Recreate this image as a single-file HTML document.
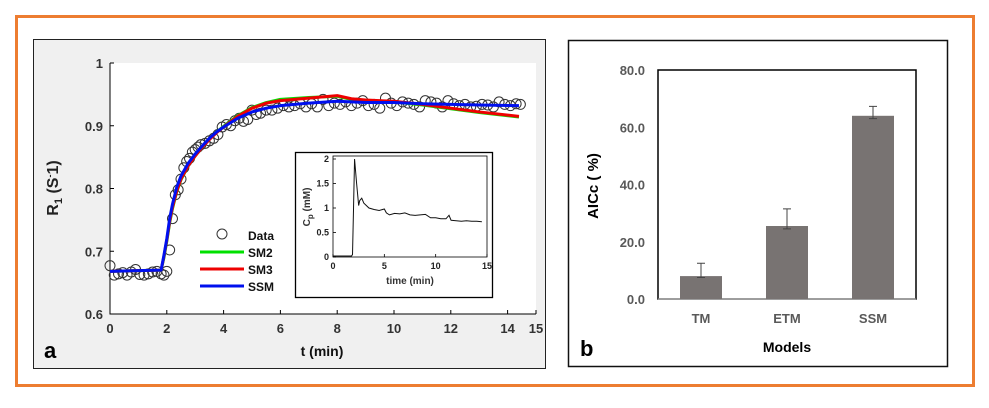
<!DOCTYPE html>
<html><head><meta charset="utf-8">
<style>
html,body{margin:0;padding:0;background:#fff;}
body{width:989px;height:403px;overflow:hidden;font-family:"Liberation Sans",Arial,sans-serif;}
svg text{font-family:"Liberation Sans",Arial,sans-serif;font-weight:bold;}
</style></head>
<body>
<svg id="fig" width="989" height="403" viewBox="0 0 989 403">
<rect x="16.5" y="16.5" width="957" height="369" fill="#fff" stroke="#ed7d31" stroke-width="3"/>
<rect x="33.5" y="39.5" width="512" height="329" fill="#f0f0f0" stroke="#222" stroke-width="1"/>
<rect x="568.5" y="40.5" width="379" height="326" fill="#fff" stroke="#111" stroke-width="1.5"/>
<g id="pa"></g><g id="inset"></g><g id="pb"></g>
</svg>
<script>
// ---- Panel a data ----
const dataT=[0,0.15,0.3,0.45,0.6,0.75,0.9,1.05,1.2,1.35,1.5,1.65,1.8,1.9,2.0,2.1,2.2,2.3,2.4,2.5,2.6,2.7,2.8,2.9,3.0,3.1,3.2,3.35,3.5,3.65,3.8,3.95,4.1,4.25,4.4,4.55,4.7,4.85,5.0,5.15,5.3,5.5,5.7,5.9,6.1,6.3,6.5,6.7,6.9,7.1,7.3,7.5,7.7,7.9,8.1,8.3,8.5,8.7,8.9,9.1,9.3,9.5,9.7,9.9,10.1,10.3,10.5,10.7,10.9,11.1,11.3,11.5,11.7,11.9,12.1,12.3,12.5,12.7,12.9,13.1,13.3,13.5,13.7,13.9,14.1,14.3,14.45];
const dataR=[0.677,0.662,0.664,0.666,0.662,0.667,0.671,0.663,0.662,0.664,0.667,0.668,0.664,0.662,0.668,0.702,0.752,0.79,0.798,0.815,0.833,0.843,0.848,0.858,0.862,0.866,0.870,0.872,0.876,0.880,0.886,0.898,0.902,0.900,0.908,0.912,0.907,0.910,0.925,0.918,0.920,0.925,0.925,0.928,0.932,0.930,0.932,0.935,0.930,0.935,0.930,0.942,0.932,0.936,0.934,0.938,0.932,0.936,0.940,0.932,0.934,0.928,0.944,0.936,0.932,0.938,0.936,0.934,0.930,0.940,0.938,0.936,0.930,0.940,0.935,0.932,0.934,0.930,0.931,0.934,0.933,0.930,0.938,0.934,0.932,0.935,0.934];
const fitT=[0,1.8,1.9,2.0,2.1,2.2,2.35,2.5,2.75,3,3.25,3.5,3.75,4,4.5,5,5.5,6,7,8,8.5,9,10,11,12,13,14.4];
const sm2=[0.668,0.670,0.690,0.716,0.745,0.768,0.795,0.814,0.836,0.852,0.866,0.879,0.890,0.899,0.916,0.929,0.937,0.942,0.945,0.947,0.942,0.940,0.938,0.933,0.927,0.921,0.914];
const sm3=[0.668,0.670,0.692,0.718,0.747,0.770,0.796,0.815,0.836,0.852,0.866,0.878,0.889,0.898,0.915,0.928,0.936,0.940,0.944,0.948,0.943,0.941,0.939,0.934,0.928,0.922,0.915];
const ssm=[0.668,0.670,0.694,0.720,0.752,0.775,0.802,0.820,0.840,0.855,0.868,0.880,0.890,0.898,0.912,0.922,0.928,0.932,0.936,0.939,0.938,0.937,0.937,0.935,0.934,0.933,0.932];
const xTicksA=[0,2,4,6,8,10,12,14,15];
const yTicksA=[0.6,0.7,0.8,0.9,1];
// ---- Inset data ----
const cpT=[0,1.8,1.9,2.0,2.1,2.3,2.5,2.6,2.8,3.0,3.5,4.0,4.5,5.0,5.2,5.5,6.0,6.5,7.0,7.5,8.0,8.5,9.0,9.5,10,10.5,11,11.3,11.5,12,12.5,13,13.5,14,14.5];
const cpV=[0.02,0.02,0.05,1.0,2.0,1.5,1.05,1.15,1.2,1.1,1.0,0.97,0.95,0.98,0.9,0.86,0.89,0.88,0.9,0.86,0.85,0.86,0.87,0.8,0.8,0.78,0.78,0.85,0.75,0.74,0.73,0.74,0.73,0.73,0.72];
const insetXT=[0,5,10,15];
const insetYT=[0,0.5,1,1.5,2];
// ---- Panel b data ----
const models=["TM","ETM","SSM"];
const aicc=[8.0,25.5,64.0];
const errHi=[12.5,31.5,67.3];
const errLo=[7.5,24.5,63.0];
const yTicksB=[0,20,40,60,80];

const NS="http://www.w3.org/2000/svg";
function mk(parent,tag,attrs,text){const e=document.createElementNS(NS,tag);for(const k in attrs)e.setAttribute(k,attrs[k]);if(text!==undefined)e.textContent=text;parent.appendChild(e);return e;}

// Panel a
const pa=document.getElementById('pa');
const ax=t=>110+t*(536-110)/15, ay=v=>314-(v-0.6)*(314-63)/0.4;
const plotA=mk(pa,'rect',{x:110,y:63,width:426,height:251,fill:'#fff'});


mk(pa,'path',{d:`M110,63V314H536`,stroke:'#000','stroke-width':1,fill:'none'});
xTicksA.forEach(t=>{
  mk(pa,'line',{x1:ax(t),x2:ax(t),y1:314,y2:310,stroke:'#000'});
  const l=mk(pa,'text',{x:ax(t),y:333,'text-anchor':'middle','font-size':13,fill:'#333'},String(t));
  
  
});
yTicksA.forEach(v=>{
  mk(pa,'line',{x1:110,x2:114,y1:ay(v),y2:ay(v),stroke:'#000'});
  const l=mk(pa,'text',{x:103,y:ay(v)+5,'text-anchor':'end','font-size':13,fill:'#333'},String(v));
  
  
});
const dg=mk(pa,'g',{});


dataT.forEach((t,i)=>{
  const c=mk(dg,'circle',{cx:ax(t),cy:ay(dataR[i]),r:5,fill:'none',stroke:'#333','stroke-width':1});
  
  
});
[[sm2,'#00e000','sm2-line'],[sm3,'#ee0000','sm3-line'],[ssm,'#0010ee','ssm-line']].forEach(([arr,col,nm])=>{
  const p=mk(pa,'polyline',{points:fitT.map((t,i)=>ax(t)+','+ay(arr[i])).join(' '),fill:'none',stroke:col,'stroke-width':3,'stroke-linejoin':'round'});
  
  
});
const lg=mk(pa,'g',{});


mk(lg,'circle',{cx:222,cy:234,r:5,fill:'none',stroke:'#333'});
mk(lg,'text',{x:248,y:240,'font-size':12,fill:'#111'},'Data');
[['SM2','#00e000',252],['SM3','#ee0000',269],['SSM','#0010ee',286]].forEach(([n,c,y])=>{
  mk(lg,'line',{x1:200,x2:244,y1:y,y2:y,stroke:c,'stroke-width':3});
  mk(lg,'text',{x:248,y:y+5,'font-size':12,fill:'#111'},n);
});
const xt=mk(pa,'text',{x:322,y:356,'text-anchor':'middle','font-size':14,fill:'#111'},'t (min)');


const yt=mk(pa,'text',{transform:'translate(58,188) rotate(-90)','text-anchor':'middle','font-size':16,fill:'#222'});


mk(yt,'tspan',{},'R');mk(yt,'tspan',{'font-size':11,dy:4},'1');mk(yt,'tspan',{dy:-4},' (S');mk(yt,'tspan',{'font-size':9,dy:-5},'-');mk(yt,'tspan',{dy:5},'1)');
const la=mk(pa,'text',{x:44,y:358,'font-size':22,fill:'#000'},'a');



// Inset
const ig=document.getElementById('inset');
const ib=mk(ig,'rect',{x:295.5,y:152.5,width:197,height:145,fill:'#fff',stroke:'#000','stroke-width':1.3});


const ix=t=>333+t*(487-333)/15, iy=v=>257-v*(257-159)/2;
mk(ig,'rect',{x:333,y:156,width:154,height:101,fill:'none',stroke:'#000','stroke-width':0.8});
insetXT.forEach(t=>{
  mk(ig,'line',{x1:ix(t),x2:ix(t),y1:257,y2:254,stroke:'#000','stroke-width':0.8});
  mk(ig,'text',{x:ix(t),y:269,'text-anchor':'middle','font-size':9,'font-weight':'normal',fill:'#222'},String(t));
});
insetYT.forEach(v=>{
  mk(ig,'line',{x1:333,x2:336,y1:iy(v),y2:iy(v),stroke:'#000','stroke-width':0.8});
  mk(ig,'text',{x:329,y:iy(v)+3,'text-anchor':'end','font-size':9,'font-weight':'normal',fill:'#222'},String(v));
});
const cl=mk(ig,'polyline',{points:cpT.map((t,i)=>ix(t)+','+iy(cpV[i])).join(' '),fill:'none',stroke:'#111','stroke-width':1});


mk(ig,'text',{x:410,y:284,'text-anchor':'middle','font-size':10,fill:'#333'},'time (min)');
const iyt=mk(ig,'text',{transform:'translate(310,207) rotate(-90)','text-anchor':'middle','font-size':10,fill:'#333'});
mk(iyt,'tspan',{},'C');mk(iyt,'tspan',{'font-size':8,dy:3},'p');mk(iyt,'tspan',{dy:-3},' (mM)');

// Panel b
const pb=document.getElementById('pb');
const bx=i=>658+(i+0.5)*(916-658)/3, by=v=>299-v*(299-70)/80;
mk(pb,'rect',{x:658,y:70,width:258,height:229,fill:'none',stroke:'#000','stroke-width':1.5});
mk(pb,'line',{x1:658,x2:916,y1:299,y2:299,stroke:'#bbb','stroke-width':1});
yTicksB.forEach(v=>{
  const l=mk(pb,'text',{x:645,y:by(v)+5,'text-anchor':'end','font-size':13,fill:'#595959'},v.toFixed(1));
  
  
});
models.forEach((m,i)=>{
  const b=mk(pb,'rect',{x:bx(i)-21,y:by(aicc[i]),width:42,height:by(0)-by(aicc[i]),fill:'#787372'});
  
  
  const e=mk(pb,'path',{d:`M${bx(i)},${by(errLo[i])}V${by(errHi[i])}M${bx(i)-4},${by(errHi[i])}H${bx(i)+4}M${bx(i)-4},${by(errLo[i])}H${bx(i)+4}`,stroke:'#444','stroke-width':1,fill:'none'});
  
  
  const l=mk(pb,'text',{x:bx(i),y:323,'text-anchor':'middle','font-size':13,fill:'#595959'},m);
  
  
});
const bxt=mk(pb,'text',{x:787,y:352,'text-anchor':'middle','font-size':14,fill:'#000'},'Models');


const byt=mk(pb,'text',{transform:'translate(598,186) rotate(-90)','text-anchor':'middle','font-size':15,fill:'#000'},'AICc ( %)');


const lb=mk(pb,'text',{x:580,y:356,'font-size':22,fill:'#000'},'b');


</script>
</body></html>
